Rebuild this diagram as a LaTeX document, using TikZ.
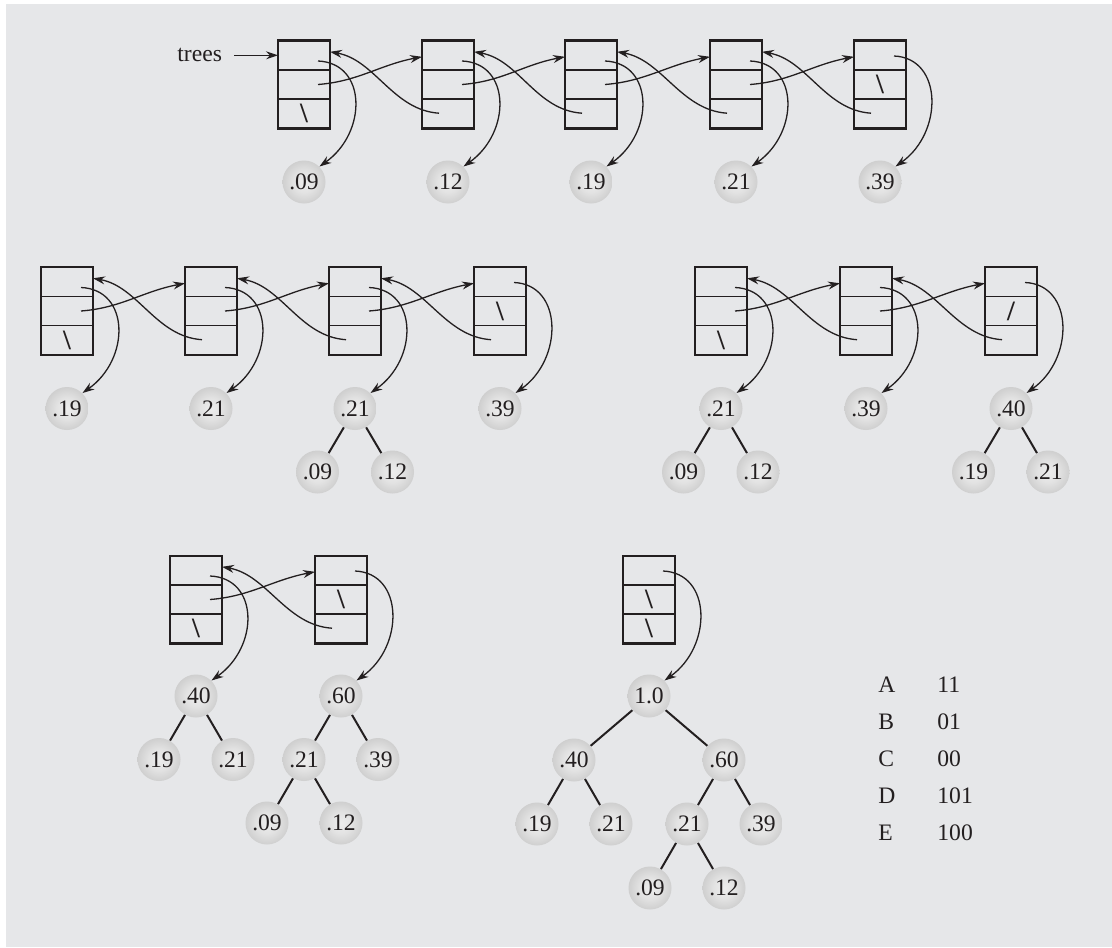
\documentclass[tikz,border=0pt]{standalone}
\usepackage{fontspec}
\setmainfont{Liberation Serif}
\usetikzlibrary{arrows.meta,calc,positioning}
\definecolor{panelgray}{RGB}{230,231,233}
\definecolor{ink}{RGB}{35,31,32}
\pgfdeclareradialshading{valball}{\pgfpoint{0bp}{0bp}}{color(0bp)=(black!7); color(12bp)=(black!11); color(27bp)=(black!20); color(34bp)=(black!28); color(35.5bp)=(panelgray); color(50bp)=(panelgray)}

\begin{document}
\begin{tikzpicture}[x=0.5pt,y=-0.5pt,>={Stealth[length=6pt,width=4pt,inset=2pt]},
  font=\fontsize{11.8pt}{14pt}\selectfont,color=ink,
  cell/.style={draw=ink,line width=0.75pt,minimum width=26pt,minimum height=14.6pt,inner sep=0pt,outer sep=0pt},
  nil/.style={inner sep=0pt,font=\fontsize{14pt}{16pt}\selectfont\bfseries},
  val/.style={circle,shade,shading=valball,minimum size=21.5pt,inner sep=0pt,text=ink},
  ptr/.style={->,line width=0.65pt},
  edge/.style={line width=1pt}]
  \fill[panelgray](6,4) rectangle (1112,947);
  \useasboundingbox (0,0) rectangle (1112,947);

  % list boxes, three cells each
  \foreach \bx/\x/\y in {a1/277/40,a2/421/40,a3/564/40,a4/709/40,a5/853/40,
      b1/40/266.5,b2/184/266.5,b3/328/266.5,b4/473/266.5,
      c1/694/266.5,c2/839/266.5,c3/984/266.5,
      d1/169/555,d2/314/555,e1/622/555}{
    \foreach \kk in {1,2,3}
      \node[cell](\bx-\kk) at (\x+27,\y-13.9+29.2*\kk) {};
    \draw[line width=1.2pt](\bx-1.north west) rectangle (\bx-3.south east);
  }
  \foreach \cn in {a1-3,a5-2,b1-3,b4-2,c1-3,d1-3,d2-2,e1-2,e1-3}
    \node[nil](\cn-nil) at (\cn) {\textbackslash};
  \node[nil](c3-2-nil) at (c3-2) {/};

  \node[left=24.5pt of a1-1](trees){trees};
  \draw[ptr,shorten <=2.5pt](trees)--(a1-1);

  % values
  \node[val](a1v) at (304,182) {.09};
  \node[val](a2v) at (448,182) {.12};
  \node[val](a3v) at (591,182) {.19};
  \node[val](a4v) at (736,182) {.21};
  \node[val](a5v) at (880,182) {.39};

  \node[val](b1v) at (67,408.5) {.19};
  \node[val](b2v) at (211,408.5) {.21};
  \node[val](b3v) at (355,408.5) {.21};
  \node[val](b3l) at (317.5,472) {.09};
  \node[val](b3r) at (392.5,472) {.12};
  \node[val](b4v) at (500,408.5) {.39};

  \node[val](c1v) at (721,408.5) {.21};
  \node[val](c1l) at (683.5,472) {.09};
  \node[val](c1r) at (758,472) {.12};
  \node[val](c2v) at (866,408.5) {.39};
  \node[val](c3v) at (1011,408.5) {.40};
  \node[val](c3l) at (973.5,472) {.19};
  \node[val](c3r) at (1048,472) {.21};

  \node[val](d1v) at (196,696) {.40};
  \node[val](d1l) at (159,759.5) {.19};
  \node[val](d1r) at (233,759.5) {.21};
  \node[val](d2v) at (341,696) {.60};
  \node[val](d2l) at (304,759.5) {.21};
  \node[val](d2r) at (378,759.5) {.39};
  \node[val](d2ll) at (267,823) {.09};
  \node[val](d2lr) at (341,823) {.12};

  \node[val](e1v) at (649,696) {1.0};
  \node[val](e1l) at (574,760) {.40};
  \node[val](e1r) at (724,760) {.60};
  \node[val](e1ll) at (537,824) {.19};
  \node[val](e1lr) at (611,824) {.21};
  \node[val](e1rl) at (687,824) {.21};
  \node[val](e1rr) at (761,824) {.39};
  \node[val](e1rll) at (650,888) {.09};
  \node[val](e1rlr) at (724,888) {.12};

  % pointers
  \foreach \bx/\dy in {a1/5.7,a2/5.7,a3/5.7,a4/5.7,a5/0.7,b1/5.7,b2/5.7,b3/5.7,b4/0.7,
      c1/5.7,c2/5.7,c3/0.7,d1/5.7,d2/0.7,e1/0.7}
    \draw[ptr]($(\bx-1.center)+(14,\dy)$) .. controls +(49,2) and +(48,-34) .. (\bx v.45);
  \foreach \p/\n in {a1/a2,a2/a3,a3/a4,a4/a5,b1/b2,b2/b3,b3/b4,c1/c2,c2/c3,d1/d2}{
    \draw[ptr]($(\p-2.center)+(14,0)$) .. controls +(40,-3) and +(-42,8) .. ($(\n-1.west)+(0,1.5)$);
    \draw[ptr]($(\n-3.center)+(-9,-0.5)$) .. controls +(-46,-3) and +(45,8) .. ($(\p-1.east)+(0,-3.5)$);
  }

  % tree edges
  \foreach \p/\q in {b3v/b3l,b3v/b3r,c1v/c1l,c1v/c1r,c3v/c3l,c3v/c3r,d1v/d1l,d1v/d1r,
      d2v/d2l,d2v/d2r,d2l/d2ll,d2l/d2lr,e1v/e1l,e1v/e1r,e1l/e1ll,e1l/e1lr,
      e1r/e1rl,e1r/e1rr,e1rl/e1rll,e1rl/e1rlr}
    \draw[edge](\p)--(\q);

  % code table
  \foreach \sym/\code [count=\i from 0] in {A/11,B/01,C/00,D/101,E/100}{
    \node[anchor=west,inner sep=0pt](key\sym) at (878,684.5+37.1*\i) {\sym};
    \node[anchor=west,inner sep=0pt](code\sym) at (937,684.5+37.1*\i) {\code};
  }
\end{tikzpicture}
\end{document}
